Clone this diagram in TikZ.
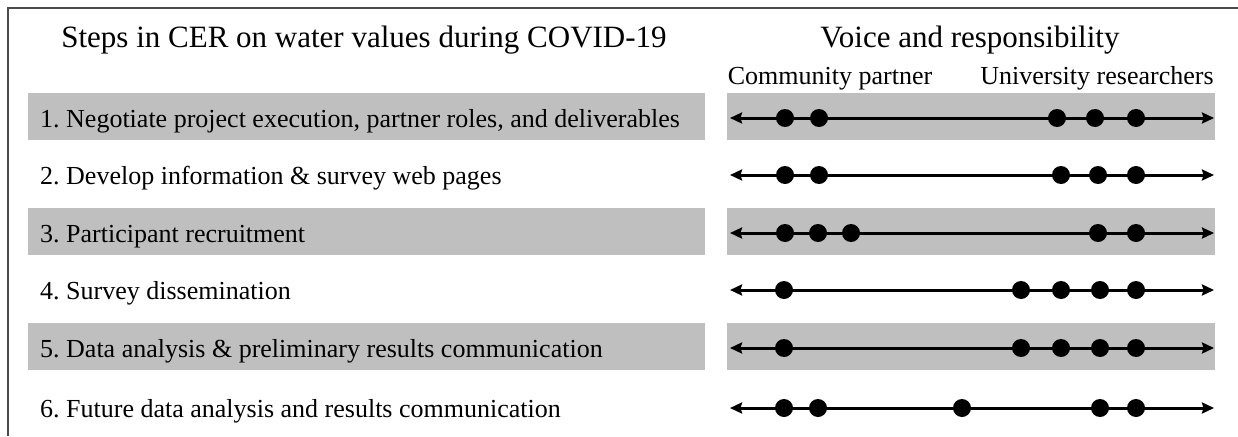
\documentclass[tikz,border=0pt]{standalone}
\usepackage{fontspec}
\setmainfont{Liberation Serif}
\usetikzlibrary{arrows.meta,positioning}
\frenchspacing

\begin{document}
\begin{tikzpicture}[x=1pt,y=-1pt,>={Stealth[length=12pt,width=11pt,inset=1.5pt]},
    title/.style={anchor=base,inner sep=0pt,font=\fontsize{31}{36}\selectfont},
    side/.style={anchor=base,inner sep=0pt,font=\fontsize{26}{30}\selectfont},
    steplabel/.style={anchor=base west,inner sep=0pt,font=\fontsize{26}{30}\selectfont},
    band/.style={fill=black!25},
    voice line/.style={<->,line width=3pt},
    dot/.style={circle,fill=black,inner sep=0pt,minimum size=18pt}]
  \useasboundingbox (0,0) rectangle (1238,436);
  \draw[black!70,line width=2pt] (8,436) -- (8,8) -- (1238,8);

  % headings
  \node[title] (steps) at (364,48) {Steps in CER on water values during COVID-19};
  \node[title] (voice) at (970,48) {Voice and responsibility};
  \node[side] (community) at (830,84) {Community partner};
  \node[side] (university) at (1097,84) {University researchers};

  % one row per step
  \foreach \r/\y/\txt/\pts in {
      1/118/{Negotiate project execution, partner roles, and deliverables}/{785,819,1057,1095,1136},
      2/175/{Develop information \& survey web pages}/{785,819,1061,1098,1136},
      3/233/{Participant recruitment}/{785,818,851,1098,1136},
      4/290/{Survey dissemination}/{784,1021,1061,1100,1136},
      5/348/{Data analysis \& preliminary results communication}/{784,1021,1061,1100,1136},
      6/408/{Future data analysis and results communication}/{784,818,962,1100,1136}}
  {
    \ifodd\r\relax
      \fill[band] (28,\y-25) rectangle (705,\y+22);
      \fill[band] (727,\y-25) rectangle (1215,\y+22);
    \fi
    \node[steplabel] (step\r) at (40,\y+9) {\r. \txt};
    \coordinate (from\r) at (730,\y);
    \coordinate (to\r) at (1214,\y);
    \draw[voice line] (from\r) -- (to\r);
    \foreach \p in \pts
      \node[dot] (dot\r-\p) at (\p,\y) {};
  }
\end{tikzpicture}
\end{document}
